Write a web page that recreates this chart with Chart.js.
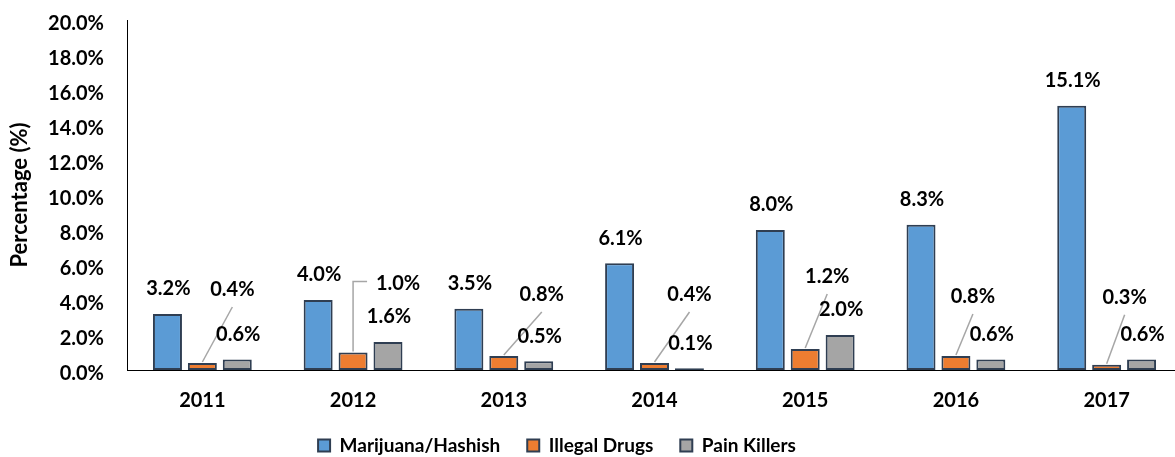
<!DOCTYPE html>
<html>
<head>
<meta charset="utf-8">
<script src="https://cdn.jsdelivr.net/npm/chart.js@4.4.0/dist/chart.umd.min.js"></script>
<style>
  html, body { margin: 0; padding: 0; background: #fff; overflow: hidden; }
  #wrap { position: relative; width: 1183px; height: 457px; }
</style>
</head>
<body>
<div id="wrap"><canvas id="drugChart"></canvas></div>
<script>
// Chart data
const years = ['2011', '2012', '2013', '2014', '2015', '2016', '2017'];
const marijuana = [3.2, 4.0, 3.5, 6.1, 8.0, 8.3, 15.1];
const illegalDrugs = [0.4, 1.0, 0.8, 0.4, 1.2, 0.8, 0.3];
const painKillers = [0.6, 1.6, 0.5, 0.1, 2.0, 0.6, 0.6];
const yTicks = [0, 2, 4, 6, 8, 10, 12, 14, 16, 18, 20];

// where the orange labels sit (px from bar top), they use leader lines
const orangeLabelShift = [[30, -73], [45, -69], [38, -61], [35, -68], [22, -72], [17, -59], [18, -67]];
const elbowLeader = [false, true, false, false, false, false, false];

const FONT = 'Lato, "Open Sans", sans-serif';
const edge = '#2f3e52';

// Data labels drawn on top of the bars
const barLabels = {
    id: 'barLabels',
    afterLayout(chart) {
        // legend is centred on the original (wider) figure
        chart.legend.right -= 68;
    },
    afterDatasetsDraw(chart) {
        const ctx = chart.ctx;
        ctx.save();
        ctx.font = 'bold 20px ' + FONT;
        ctx.fillStyle = '#000';
        ctx.textAlign = 'center';
        ctx.textBaseline = 'middle';
        chart.data.datasets.forEach((ds, di) => {
            const meta = chart.getDatasetMeta(di);
            meta.data.forEach((bar, i) => {
                const txt = ds.data[i].toFixed(1) + '%';
                if (di === 1) {
                    const lx = bar.x + orangeLabelShift[i][0];
                    const ly = bar.y + orangeLabelShift[i][1];
                    ctx.strokeStyle = '#a6a6a6';
                    ctx.lineWidth = 1.5;
                    ctx.beginPath();
                    ctx.moveTo(bar.x, bar.y - 1);
                    if (elbowLeader[i]) {
                        ctx.lineTo(bar.x, ly - 2);
                        ctx.lineTo(lx - 31, ly - 2);
                    } else {
                        ctx.lineTo(lx, ly + 17);
                    }
                    ctx.stroke();
                    ctx.fillText(txt, lx, ly);
                } else {
                    ctx.fillText(txt, bar.x + 1, bar.y - 25);
                }
            });
        });
        ctx.restore();
    }
};

function makeSet(label, data, color) {
    return {
        label: label,
        data: data,
        backgroundColor: color,
        borderColor: edge,
        borderWidth: 2,
        borderSkipped: false,
        categoryPercentage: 0.695,
        barPercentage: 0.83
    };
}

new Chart(document.getElementById('drugChart'), {
    type: 'bar',
    data: {
        labels: years,
        datasets: [
            makeSet('Marijuana/Hashish', marijuana, '#5b9bd5'),
            makeSet('Illegal Drugs', illegalDrugs, '#ed7d31'),
            makeSet('Pain Killers', painKillers, '#a5a5a5')
        ]
    },
    options: {
        responsive: true,
        maintainAspectRatio: false,
        animation: false,
        layout: { padding: { top: 0, right: 1, left: 0, bottom: 0 } },
        plugins: {
            legend: {
                position: 'bottom',
                maxHeight: 48,
                labels: {
                    font: { family: FONT, size: 19, weight: 'bold' },
                    color: '#000',
                    boxWidth: 12,
                    boxHeight: 12,
                    padding: 27
                }
            },
            tooltip: { enabled: false }
        },
        scales: {
            x: {
                grid: { display: false, drawTicks: false },
                border: { display: true, color: '#000', width: 1 },
                ticks: {
                    color: '#000',
                    font: { family: FONT, size: 20, weight: 'bold' },
                    padding: 19
                },
                afterFit(scale) { scale.height = 39; }
            },
            y: {
                min: 0,
                max: 20,
                grid: { display: false, drawTicks: false },
                border: { display: true, color: '#000', width: 1 },
                afterBuildTicks(scale) { scale.ticks = yTicks.map(v => ({ value: v })); },
                ticks: {
                    color: '#000',
                    font: { family: FONT, size: 20, weight: 'bold' },
                    padding: 23,
                    labelOffset: 4,
                    callback: v => v.toFixed(1) + '%'
                },
                title: {
                    display: true,
                    text: 'Percentage (%)',
                    color: '#000',
                    font: { family: FONT, size: 22, weight: 'bold' },
                    padding: { top: 7, bottom: 0 }
                },
                afterFit(scale) {
                    scale.width = 127;
                    scale.paddingTop = 20;
                    scale.paddingBottom = 0;
                }
            }
        }
    },
    plugins: [barLabels]
});
</script>
</body>
</html>
